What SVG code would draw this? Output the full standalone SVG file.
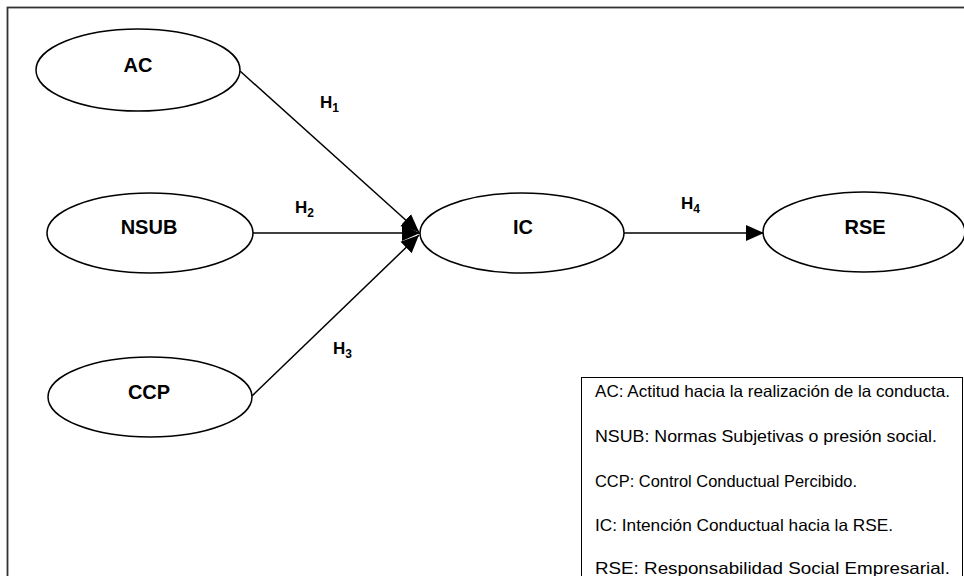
<svg xmlns="http://www.w3.org/2000/svg" width="964" height="576" viewBox="0 0 964 576">
<defs>
<style>
.node ellipse{fill:#fff;stroke:#000;stroke-width:1.5}
.lbl{font-family:"Liberation Sans",Arial,sans-serif;font-weight:bold;font-size:20px;text-anchor:middle;fill:#000}
.h{font-family:"Liberation Sans",Arial,sans-serif;font-weight:bold;font-size:17px;fill:#000}
.sub{font-size:12px}
.conn line{stroke:#000;stroke-width:1.5}
.leg{font-family:"Liberation Sans",Arial,sans-serif;font-size:16.5px;fill:#000}
</style>
<marker id="arr" markerUnits="userSpaceOnUse" markerWidth="20" markerHeight="18" viewBox="0 0 20 18" refX="18" refY="9" orient="auto">
<path d="M0,1 L18,9 L0,17 Z" fill="#000"/>
</marker>
</defs>
<rect x="7.5" y="7.5" width="990" height="600" fill="#fff" stroke="#333" stroke-width="1.8"/>
<g id="connectors" class="conn">
<line x1="240" y1="71" x2="419" y2="232" marker-end="url(#arr)"/>
<line x1="253" y1="233" x2="420" y2="233" marker-end="url(#arr)"/>
<line x1="252" y1="396" x2="419" y2="235" marker-end="url(#arr)"/>
<line x1="624" y1="233" x2="764" y2="233" marker-end="url(#arr)"/>
</g>
<g id="node-AC" class="node"><ellipse cx="138" cy="70" rx="102" ry="41"/><text class="lbl" x="138" y="72">AC</text></g>
<g id="node-NSUB" class="node"><ellipse cx="150" cy="233" rx="103" ry="40"/><text class="lbl" x="149" y="234">NSUB</text></g>
<g id="node-CCP" class="node"><ellipse cx="150" cy="397" rx="102" ry="40"/><text class="lbl" x="149" y="399">CCP</text></g>
<g id="node-IC" class="node"><ellipse cx="522" cy="233" rx="102" ry="40"/><text class="lbl" x="523" y="234">IC</text></g>
<g id="node-RSE" class="node"><ellipse cx="864" cy="232" rx="101" ry="40"/><text class="lbl" x="865" y="234">RSE</text></g>
<g id="labels">
<text class="h" x="320" y="108">H<tspan class="sub" dy="4">1</tspan></text>
<text class="h" x="295" y="213">H<tspan class="sub" dy="4">2</tspan></text>
<text class="h" x="333" y="354">H<tspan class="sub" dy="4">3</tspan></text>
<text class="h" x="681" y="209">H<tspan class="sub" dy="4">4</tspan></text>
</g>
<g id="legend">
<rect x="581.5" y="377.5" width="381" height="220" fill="#fff" stroke="#000" stroke-width="1"/>
<text class="leg" x="595" y="397" textLength="355" lengthAdjust="spacingAndGlyphs">AC: Actitud hacia la realización de la conducta.</text>
<text class="leg" x="595" y="442" textLength="342" lengthAdjust="spacingAndGlyphs">NSUB: Normas Subjetivas o presión social.</text>
<text class="leg" x="595" y="487" textLength="262" lengthAdjust="spacingAndGlyphs">CCP: Control Conductual Percibido.</text>
<text class="leg" x="595" y="531" textLength="298" lengthAdjust="spacingAndGlyphs">IC: Intención Conductual hacia la RSE.</text>
<text class="leg" x="595" y="574" textLength="355" lengthAdjust="spacingAndGlyphs">RSE: Responsabilidad Social Empresarial.</text>
</g>
</svg>
